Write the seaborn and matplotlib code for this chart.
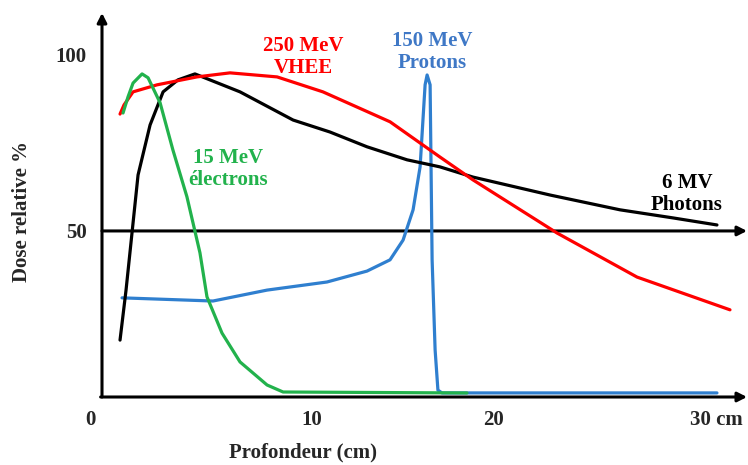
import matplotlib
matplotlib.use("Agg")
import matplotlib.pyplot as plt
import seaborn as sns
import pandas as pd

# depth (cm) / relative dose (%)
vhee_x = [0.90, 1.10, 1.55, 2.75, 4.74, 6.39, 8.74, 11.03, 14.38, 16.87, 18.52, 22.72, 26.71, 31.35]
vhee_y = [83.2, 85.8, 89.5, 91.5, 93.75, 94.9, 93.75, 89.5, 81.0, 71.0, 64.5, 49.4, 36.9, 27.6]

photon_x = [0.90, 1.20, 1.80, 2.40, 3.05, 3.79, 4.64, 6.89, 9.54, 11.38, 13.23, 15.23, 16.87, 18.52, 22.37, 25.86, 28.51, 30.70]
photon_y = [19.0, 33.2, 65.9, 80.1, 89.5, 92.9, 94.6, 89.5, 81.5, 78.1, 73.9, 70.2, 68.2, 65.3, 60.2, 56.0, 53.7, 51.7]

electron_x = [1.05, 1.30, 1.55, 2.00, 2.30, 2.90, 3.54, 4.24, 4.89, 5.24, 5.99, 6.89, 8.24, 9.04, 18.22]
electron_y = [83.5, 88.1, 92.0, 94.6, 93.5, 86.4, 73.0, 59.7, 43.8, 31.3, 21.0, 12.8, 6.25, 4.26, 3.98]

proton_x = [1.00, 5.54, 8.24, 11.23, 13.23, 14.38, 15.03, 15.53, 15.88, 16.13, 16.23, 16.38, 16.48, 16.63, 16.77, 16.97, 30.70]
proton_y = [31.0, 30.1, 33.2, 35.5, 38.6, 41.8, 47.4, 56.0, 68.2, 91.5, 94.3, 91.5, 41.8, 16.2, 4.8, 4.0, 4.0]

xtick_labels = ["0", "10", "20", "30 cm"]
xtick_pos = [-0.6, 10.48, 19.52, 30.65]

RED = "#FF0000"
GREEN = "#22B24C"
BLUE = "#2F7FCF"
BLUE_TXT = "#3F78C6"

sns.set_style("white")
plt.rcParams["font.family"] = ["Liberation Serif", "DejaVu Serif"]
plt.rcParams["font.weight"] = "bold"

fig = plt.figure(figsize=(7.48, 4.65), dpi=100)
ax = fig.add_axes([102 / 748, 68 / 465, 645 / 748, 384 / 465])
ax.set_xlim(0, 32.2)
ax.set_ylim(2.84, 111.9)

lw = 2.3
sns.lineplot(x=proton_x, y=proton_y, sort=False, color=BLUE, lw=lw, ax=ax, zorder=3)
sns.lineplot(x=electron_x, y=electron_y, sort=False, color=GREEN, lw=lw, ax=ax, zorder=4)
sns.lineplot(x=photon_x, y=photon_y, sort=False, color="black", lw=lw, ax=ax, zorder=3)
sns.lineplot(x=vhee_x, y=vhee_y, sort=False, color=RED, lw=lw, ax=ax, zorder=3)

for s in ax.spines.values():
    s.set_visible(False)
ax.set_xticks([])
ax.set_yticks([50, 100])
ax.set_yticklabels(["50", "100"], fontsize=15, fontweight="bold")
ax.tick_params(axis="y", length=0, pad=11)

# axes drawn as arrows, like the original
arrow = dict(arrowstyle="-|>,head_length=0.55,head_width=0.28", lw=2.2, color="black",
             shrinkA=0, shrinkB=0)
y0, y1 = ax.get_ylim()
x0, x1 = ax.get_xlim()
ax.annotate("", xy=(0, y1), xytext=(0, y0), arrowprops=arrow, annotation_clip=False, zorder=2)
ax.annotate("", xy=(x1, y0), xytext=(-0.07, y0), arrowprops=arrow, annotation_clip=False, zorder=2)
ax.annotate("", xy=(x1, 50), xytext=(0, 50), arrowprops=arrow, annotation_clip=False, zorder=2)

for lab, xp in zip(xtick_labels, xtick_pos):
    ax.text(xp, -3.7, lab, ha="center", va="center", fontsize=15, fontweight="bold", clip_on=False)

ax.text(10.03, -12.8, "Profondeur (cm)", ha="center", va="center", fontsize=15, fontweight="bold", clip_on=False)
fig.text(22 / 748, 1 - 212 / 465, "Dose relative %", rotation=90, ha="center", va="center",
         fontsize=15, fontweight="bold")

ax.text(10.04, 99.5, "250 MeV\nVHEE", color=RED, ha="center", va="center", fontsize=15,
        fontweight="bold", linespacing=1.12)
ax.text(16.5, 100.8, "150 MeV\nProtons", color=BLUE_TXT, ha="center", va="center", fontsize=15,
        fontweight="bold", linespacing=1.12)
ax.text(6.29, 67.6, "15 MeV\nélectrons", color=GREEN, ha="center", va="center", fontsize=15,
        fontweight="bold", linespacing=1.12)
ax.text(29.2, 60.6, "6 MV\nPhotons", color="black", ha="center", va="center", fontsize=15,
        fontweight="bold", linespacing=1.12)

plt.savefig("out.png", dpi=100)
